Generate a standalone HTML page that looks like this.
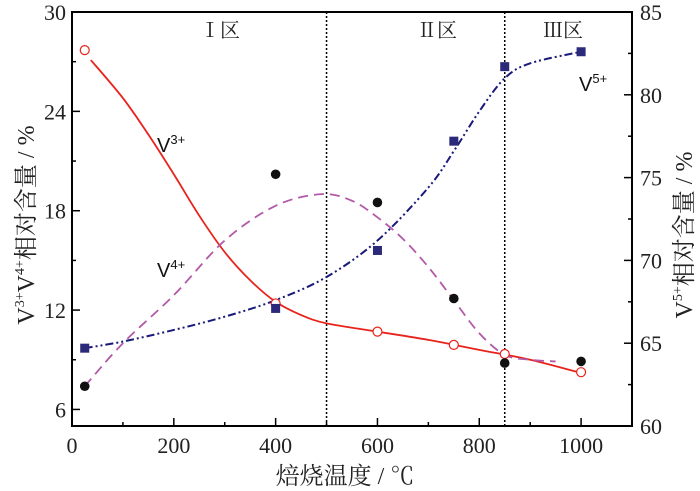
<!DOCTYPE html>
<html><head><meta charset="utf-8"><style>
body{margin:0;background:#fff}
svg{display:block;font-family:"Liberation Serif","Noto Serif CJK SC",serif}
</style></head><body>
<svg id="chart" width="700" height="491" viewBox="0 0 700 491" xmlns="http://www.w3.org/2000/svg"></svg>
<script>
const temps=[25,400,600,750,850,1000];
const v3=[27.7,12.4,10.7,9.9,9.35,8.25];
const v4=[7.4,20.2,18.5,12.7,8.8,8.9];
const v5=[64.7,67.1,70.6,77.2,81.7,82.6];
const v3FitX=[37,100,150,200,250,300,350,400,450,500,600,700,800,900,1000];
const v3FitY=[27.1,24.8,22.6,20.2,17.7,15.5,13.8,12.5,11.7,11.2,10.7,10.2,9.6,9.0,8.2];
const v4FitX=[25,100,200,300,400,490,550,600,650,700,750,800,850,900,950];
const v4FitY=[7.4,10.0,12.9,16.2,18.3,19.0,18.6,17.6,16.3,14.6,12.6,10.6,9.3,9.0,8.9];
const v5FitX=[25,100,200,300,400,500,600,700,750,800,850,900,1000];
const v5FitY=[64.7,65.1,65.8,66.6,67.6,69.0,71.2,74.4,76.6,79.0,81.0,81.9,82.6];
const xTicks=[0,200,400,600,800,1000];
const yLeftTicks=[6,12,18,24,30];
const yRightTicks=[60,65,70,75,80,85];
const dividers=[500,850];

const NS="http://www.w3.org/2000/svg";
const svg=document.getElementById('chart');
const L=72,R=632,T=12,B=426;
const X=v=>L+(v/1100)*(R-L);
const YL=v=>B-(v-5)/25*(B-T);
const YR=v=>B-(v-60)/25*(B-T);
function mk(tag,attrs,parent){const e=document.createElementNS(NS,tag);for(const k in attrs)e.setAttribute(k,attrs[k]);(parent||svg).appendChild(e);return e;}
function smooth(xs,ys,fy){const p=xs.map((x,i)=>[X(x),fy(ys[i])]);let d=`M${p[0][0]},${p[0][1]}`;
for(let i=0;i<p.length-1;i++){const p0=p[i-1]||p[i],p1=p[i],p2=p[i+1],p3=p[i+2]||p2;
d+=` C${p1[0]+(p2[0]-p0[0])/6},${p1[1]+(p2[1]-p0[1])/6} ${p2[0]-(p3[0]-p1[0])/6},${p2[1]-(p3[1]-p1[1])/6} ${p2[0]},${p2[1]}`;}return d;}

dividers.forEach(v=>{const l=mk('line',{x1:X(v),x2:X(v),y1:T,y2:B,stroke:'#000','stroke-width':1.5,'stroke-dasharray':'2,2'});

});

let c=mk('path',{d:smooth(v3FitX,v3FitY,YL),fill:'none',stroke:'#e8231c','stroke-width':1.8});


c=mk('path',{d:smooth(v4FitX,v4FitY,YL),fill:'none',stroke:'#b25aa8','stroke-width':1.8,'stroke-dasharray':'10,6'});


c=mk('path',{d:smooth(v5FitX,v5FitY,YR),fill:'none',stroke:'#1a1a7a','stroke-width':2,'stroke-dasharray':'8,3,2,3,2,3'});



temps.forEach((t,i)=>{
 let m=mk('circle',{cx:X(t),cy:YL(v3[i]),r:4.5,fill:'#fff',stroke:'#e8231c','stroke-width':1.2});
 
 
 m=mk('circle',{cx:X(t),cy:YL(v4[i]),r:4.8,fill:'#111'});
 
 
 m=mk('rect',{x:X(t)-4.5,y:YR(v5[i])-4.5,width:9,height:9,fill:'#2b2a7a'});
 
 
});

let f=mk('rect',{x:L,y:T,width:R-L,height:B-T,fill:'none',stroke:'#000','stroke-width':2});



for(let v=0;v<=1100;v+=100){const maj=v%200===0;
 const t=mk('line',{x1:X(v),x2:X(v),y1:B,y2:B-(maj?8:4),stroke:'#000','stroke-width':1.5});
 
 }
xTicks.forEach(v=>{const t=mk('text',{x:X(v),y:B+27,'font-size':22,'text-anchor':'middle',fill:'#222'});t.textContent=v;
 
 });
for(let v=6;v<=30;v+=3){const maj=v%6===0;
 const t=mk('line',{x1:L,x2:L+(maj?8:4),y1:YL(v),y2:YL(v),stroke:'#000','stroke-width':1.5});
 
 }
yLeftTicks.forEach(v=>{const t=mk('text',{x:L-6,y:YL(v)+8,'font-size':22,'text-anchor':'end',fill:'#222'});t.textContent=v;
 
 });
for(let v=60;v<=85;v+=2.5){const maj=v%5===0;
 const t=mk('line',{x1:R,x2:R-(maj?8:4),y1:YR(v),y2:YR(v),stroke:'#000','stroke-width':1.5});
 
 }
yRightTicks.forEach(v=>{const t=mk('text',{x:R+8,y:YR(v)+8,'font-size':22,'text-anchor':'start',fill:'#222'});t.textContent=v;
 
 });
</script>
<svg style="position:absolute;left:0;top:0" width="700" height="491">
 <g font-family="'Liberation Serif','Noto Serif CJK SC',serif" fill="#222">
  <text x="220" y="37" font-size="20" text-anchor="middle">Ⅰ区</text>
  <text x="437" y="37" font-size="20" text-anchor="middle">Ⅱ区</text>
  <text x="563" y="37" font-size="20" text-anchor="middle">Ⅲ区</text>
  <text x="345" y="484" font-size="24" text-anchor="middle">焙烧温度 / ℃</text>
  <text transform="translate(34,225) rotate(-90)" font-size="24" text-anchor="middle">V<tspan font-size="14" dy="-10">3+</tspan><tspan dy="10">V</tspan><tspan font-size="14" dy="-10">4+</tspan><tspan dy="10">相对含量 / %</tspan></text>
  <text transform="translate(692,235) rotate(-90)" font-size="24" text-anchor="middle">V<tspan font-size="14" dy="-10">5+</tspan><tspan dy="10">相对含量 / %</tspan></text>
 </g>
 <g font-family="'Liberation Sans',sans-serif" fill="#111" font-size="20">
  <text x="157" y="152">V<tspan font-size="13" dy="-8">3+</tspan></text>
  <text x="157" y="277">V<tspan font-size="13" dy="-8">4+</tspan></text>
  <text x="579" y="91">V<tspan font-size="13" dy="-8">5+</tspan></text>
 </g>
</svg>
</body></html>
